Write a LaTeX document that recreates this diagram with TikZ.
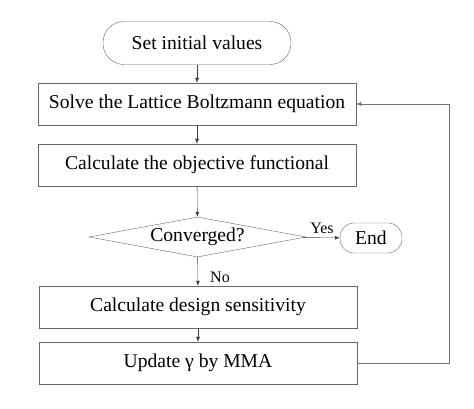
\documentclass[tikz,border=0pt]{standalone}
\usepackage{fontspec}
\setmainfont{Liberation Serif}
\usetikzlibrary{arrows.meta,shapes.geometric}

\tikzset{
    box/.style={draw=gray!80!black, minimum width=318pt, minimum height=42pt,
        inner sep=0pt, font=\fontsize{19.6}{22}\selectfont},
    term/.style={draw=gray!80!black, rounded corners=#1, inner sep=0pt,
        font=\fontsize{19.6}{22}\selectfont},
    decide/.style={draw=gray!80!black, diamond, aspect=5.4, inner sep=0pt,
        minimum width=217pt, minimum height=40pt, font=\fontsize{19.6}{22}\selectfont},
    flow/.style={draw=black!75, -{Latex[length=5pt,width=4pt]}},
    tag/.style={font=\fontsize{16}{18}\selectfont}
}

\begin{document}
\begin{tikzpicture}[x=1pt,y=1pt]

\useasboundingbox (0,0) rectangle (474,409);

% terminals
\node[term=21pt, minimum width=188pt, minimum height=43pt] (start) at (197,366) {Set initial values};
\node[term=14pt, minimum width=62pt, minimum height=30pt]  (stop)  at (371,171) {End};

% process steps
\node[box] (solve)  at (197,305) {Solve the Lattice Boltzmann equation};
\node[box] (objfun) at (197,244) {Calculate the objective functional};
\node[decide] (conv) at (197.5,172) {Converged?};
\node[box] (sens)   at (198,102) {Calculate design sensitivity};
\node[box] (update) at (198,46)  {Update γ by MMA};

% connectors
\draw[flow] (start)  -- (solve);
\draw[flow] (solve)  -- (objfun);
\draw[flow] (objfun) -- (conv);
\draw[flow] (conv)   -- (stop);
\draw[flow] (conv)   -- (sens);
\draw[flow] (sens)   -- (update);

% loop back
\coordinate (back) at (449,0);
\draw[flow, draw=gray!90!black] (update.east) -- (update.east -| back) |- (solve.east);

% labels
\node[tag] (yes) at (322,181) {Yes};
\node[tag] (no)  at (220,132) {No};

\end{tikzpicture}
\end{document}
